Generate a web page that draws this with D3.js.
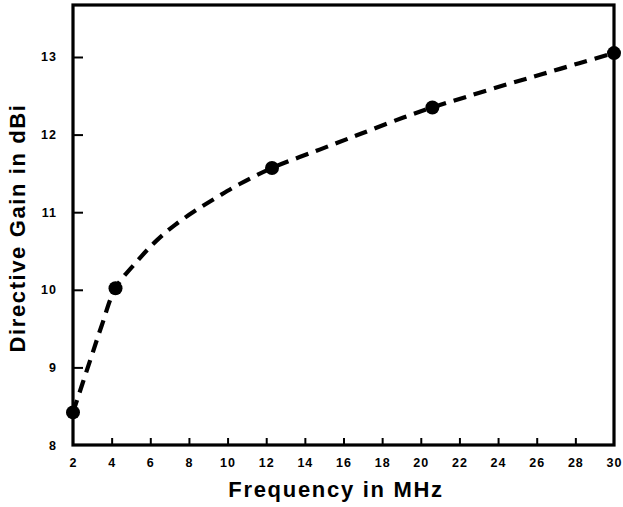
<!DOCTYPE html>
<html>
<head>
<meta charset="utf-8">
<script src="https://cdn.jsdelivr.net/npm/d3@7"></script>
<style>
  html, body { margin: 0; padding: 0; background: #fff; }
  svg { display: block; }
  text { font-family: "Liberation Sans", Arial, Helvetica, sans-serif; fill: #000; }
</style>
</head>
<body>
<svg id="chart" width="623" height="507"></svg>
<script>
// Measured points
const freq = [2, 4.2, 12.3, 20.6, 30];
const gain = [8.42, 10.02, 11.57, 12.35, 13.05];
// Dashed fitted curve
const curveFreq = [2, 2.9, 3.5, 4.2, 5.36, 6.35, 7.3, 8.4, 9.5, 10.6, 12.3, 14.8, 17, 19.1, 20.6, 22.4, 24.5, 26.3, 28.2, 30];
const curveGain = [8.42, 9.1, 9.55, 10.02, 10.38, 10.64, 10.84, 11.03, 11.2, 11.36, 11.57, 11.81, 12.02, 12.22, 12.35, 12.49, 12.65, 12.78, 12.92, 13.05];
// Ticks
const xTicks = [2, 4, 6, 8, 10, 12, 14, 16, 18, 20, 22, 24, 26, 28, 30];
const yTicks = [8, 9, 10, 11, 12, 13];
const xTitle = "Frequency in MHz";
const yTitle = "Directive Gain in dBi";

const W = 623, H = 507;
const m = { left: 73, top: 5, right: 9, bottom: 62 };
const svg = d3.select("#chart");
const x = d3.scaleLinear().domain([2, 30]).range([m.left, W - m.right]);
const y = d3.scaleLinear().domain([8, 13.67]).range([H - m.bottom, m.top]);

// X axis ticks (inward)
const gx = svg.append("g").attr("transform", `translate(0,${H - m.bottom})`)
  .call(d3.axisBottom(x).tickValues(xTicks).tickSizeInner(-7).tickSizeOuter(0).tickPadding(19).tickFormat(d3.format("d")));
gx.select(".domain").remove();
gx.selectAll(".tick line").attr("stroke", "#000").attr("stroke-width", 2)
  .filter(d => d === 2 || d === 30).remove();
gx.selectAll(".tick text").attr("font-size", 12.5).attr("font-weight", "bold").attr("letter-spacing", 1).attr("dy", "0.2em");

// Y axis ticks (inward)
const gy = svg.append("g").attr("transform", `translate(${m.left},0)`)
  .call(d3.axisLeft(y).tickValues(yTicks).tickSizeInner(-10).tickSizeOuter(0).tickPadding(16).tickFormat(d3.format("d")));
gy.select(".domain").remove();
gy.selectAll(".tick line").attr("stroke", "#000").attr("stroke-width", 2)
  .filter(d => d === 8).remove();
gy.selectAll(".tick text").attr("font-size", 12.5).attr("font-weight", "bold").attr("letter-spacing", 1);

// Frame
svg.append("rect")
  .attr("x", m.left).attr("y", m.top)
  .attr("width", W - m.left - m.right).attr("height", H - m.top - m.bottom)
  .attr("fill", "none").attr("stroke", "#000").attr("stroke-width", 3.2);

// Dashed curve
const pts = curveFreq.map((f, i) => [f, curveGain[i]]);
svg.append("path")
  .datum(pts)
  .attr("d", d3.line().x(d => x(d[0])).y(d => y(d[1])).curve(d3.curveCatmullRom.alpha(0.5)))
  .attr("fill", "none").attr("stroke", "#000").attr("stroke-width", 4.2)
  .attr("stroke-dasharray", "13,8").attr("stroke-linecap", "butt");

// Points
svg.append("g").selectAll("circle")
  .data(freq.map((f, i) => [f, gain[i]]))
  .join("circle")
  .attr("cx", d => x(d[0])).attr("cy", d => y(d[1])).attr("r", 7)
  .attr("fill", "#000");

// Titles
svg.append("text")
  .attr("x", 336).attr("y", 497)
  .attr("text-anchor", "middle").attr("font-size", 22).attr("font-weight", "bold")
  .attr("letter-spacing", 1.7)
  .text(xTitle);
svg.append("text")
  .attr("transform", `translate(25,${228}) rotate(-90)`)
  .attr("text-anchor", "middle").attr("font-size", 22).attr("font-weight", "bold")
  .attr("letter-spacing", 1.6)
  .text(yTitle);
</script>
</body>
</html>
